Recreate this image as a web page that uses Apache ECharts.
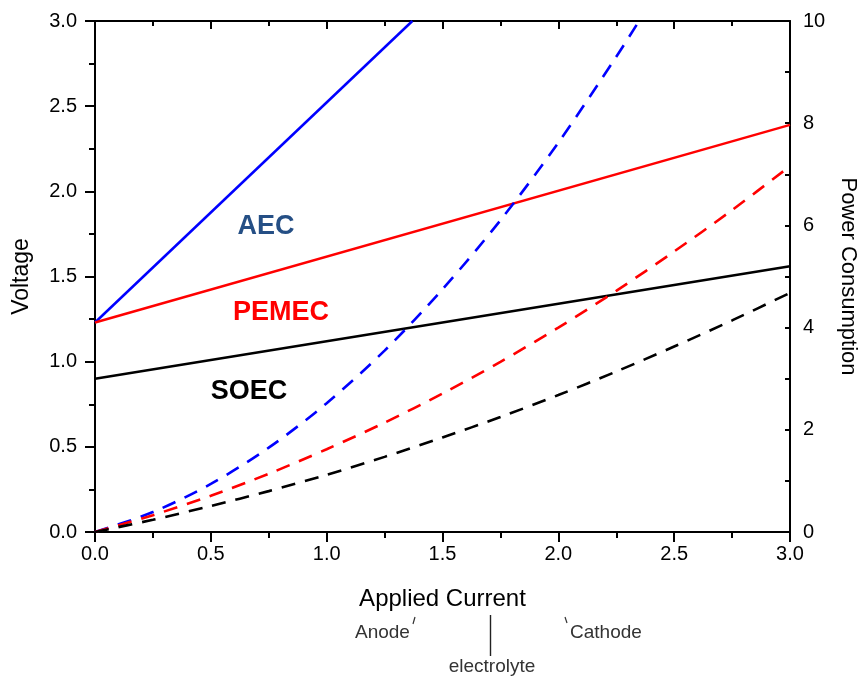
<!DOCTYPE html>
<html>
<head>
<meta charset="utf-8">
<script src="https://cdn.jsdelivr.net/npm/echarts@6/dist/echarts.min.js"></script>
<style>html,body{margin:0;padding:0;background:#fff}#c{width:865px;height:678px}</style>
</head>
<body>
<div id="c"></div>
<script>
// Applied current (x) sample points
const current = [0, 0.25, 0.5, 0.75, 1.0, 1.25, 1.5, 1.75, 2.0, 2.25, 2.5, 2.75, 3.0];
const currentAEC = [0, 0.25, 0.5, 0.75, 1.0, 1.25, 1.5, 1.75, 2.0, 2.25, 2.35];
// Power consumption (right axis)
const powerAEC = [0, 0.39, 0.94, 1.65, 2.52, 3.55, 4.75, 6.10, 7.62, 9.30, 10.01];
const powerPEMEC = [0, 0.33, 0.71, 1.14, 1.62, 2.14, 2.71, 3.33, 4.00, 4.72, 5.49, 6.30, 7.16];
const powerSOEC = [0, 0.24, 0.51, 0.80, 1.12, 1.47, 1.85, 2.25, 2.68, 3.14, 3.63, 4.14, 4.68];
// Voltage lines (left axis): end points
const currentV = [0, 3.0];
const currentVAEC = [0, 1.37];
const voltageAEC = [1.23, 3.0];
const voltagePEMEC = [1.23, 2.39];
const voltageSOEC = [0.90, 1.56];
// Labels
const seriesLabels = ['AEC', 'PEMEC', 'SOEC'];
const xTitle = 'Applied Current';
const yTitle = 'Voltage';
const y2Title = 'Power Consumption';
const bottomNotes = ['Anode', 'electrolyte', 'Cathode'];

const pairs = (xs, ys) => xs.map((x, i) => [x, ys[i]]);
const FONT = '"Liberation Sans", Arial, sans-serif';
const AX = {color: '#000', width: 2};

const chart = echarts.init(document.getElementById('c'), null, {renderer: 'canvas'});
const dashed = (name, xs, ys, color) => ({
  name, type: 'line', xAxisIndex: 0, yAxisIndex: 1, data: pairs(xs, ys),
  smooth: 0.3, showSymbol: false, symbol: 'none', clip: true,
  lineStyle: {color, width: 2.6, type: [14, 10]}
});
const solid = (name, xs, ys, color) => ({
  name, type: 'line', xAxisIndex: 0, yAxisIndex: 0, data: pairs(xs, ys),
  showSymbol: false, symbol: 'none', clip: true,
  lineStyle: {color, width: 2.5}
});

chart.setOption({
  animation: false,
  backgroundColor: '#fff',
  grid: {left: 95, right: 75, top: 21, bottom: 146, containLabel: false, outerBoundsMode: 'none'},
  xAxis: [{
    type: 'value', position: 'bottom', min: 0, max: 3, interval: 0.5,
    axisLine: {show: true, onZero: false, lineStyle: AX},
    axisTick: {show: true, length: 10, lineStyle: AX},
    minorTick: {show: true, splitNumber: 2, length: 6, lineStyle: AX},
    splitLine: {show: false},
    axisLabel: {color: '#000', fontSize: 20, fontFamily: FONT, margin: 12,
      formatter: v => v.toFixed(1)},
    name: xTitle, nameLocation: 'middle', nameGap: 55,
    nameTextStyle: {color: '#000', fontSize: 24, fontFamily: FONT}
  }, {
    type: 'value', position: 'top', min: 0, max: 3, interval: 0.5,
    axisLine: {show: true, onZero: false, lineStyle: AX},
    axisTick: {show: true, inside: true, length: 8, lineStyle: AX},
    minorTick: {show: true, splitNumber: 2, length: 5, lineStyle: AX},
    splitLine: {show: false},
    axisLabel: {show: false}
  }],
  yAxis: [{
    type: 'value', position: 'left', min: 0, max: 3, interval: 0.5,
    axisLine: {show: true, onZero: false, lineStyle: AX},
    axisTick: {show: true, length: 10, lineStyle: AX},
    minorTick: {show: true, splitNumber: 2, length: 6, lineStyle: AX},
    splitLine: {show: false},
    axisLabel: {color: '#000', fontSize: 20, fontFamily: FONT, margin: 18,
      formatter: v => v.toFixed(1)},
    name: yTitle, nameLocation: 'middle', nameGap: 62, nameRotate: 90,
    nameTextStyle: {color: '#000', fontSize: 23, fontFamily: FONT}
  }, {
    type: 'value', position: 'right', min: 0, max: 10, interval: 2,
    axisLine: {show: true, onZero: false, lineStyle: AX},
    axisTick: {show: true, inside: true, length: 5, lineStyle: AX},
    minorTick: {show: true, splitNumber: 2, length: 5, lineStyle: AX},
    splitLine: {show: false},
    axisLabel: {color: '#000', fontSize: 20, fontFamily: FONT, margin: 13},
    name: y2Title, nameLocation: 'middle', nameGap: 47, nameRotate: -90,
    nameTextStyle: {color: '#000', fontSize: 22, fontFamily: FONT}
  }],
  series: [
    solid('AEC V', currentVAEC, voltageAEC, '#0000ff'),
    solid('PEMEC V', currentV, voltagePEMEC, '#ff0000'),
    solid('SOEC V', currentV, voltageSOEC, '#000000'),
    dashed('AEC P', currentAEC, powerAEC, '#0000ff'),
    dashed('PEMEC P', current, powerPEMEC, '#ff0000'),
    dashed('SOEC P', current, powerSOEC, '#000000')
  ],
  graphic: [
    {type: 'text', x: 266, y: 227, style: {text: seriesLabels[0], fill: '#254f85',
      font: 'bold 27px ' + FONT, textAlign: 'center', textVerticalAlign: 'middle'}},
    {type: 'text', x: 281, y: 313, style: {text: seriesLabels[1], fill: '#ff0000',
      font: 'bold 27px ' + FONT, textAlign: 'center', textVerticalAlign: 'middle'}},
    {type: 'text', x: 249, y: 392, style: {text: seriesLabels[2], fill: '#000',
      font: 'bold 27px ' + FONT, textAlign: 'center', textVerticalAlign: 'middle'}},
    {type: 'text', x: 355, y: 633, style: {text: bottomNotes[0], fill: '#333',
      font: '19px ' + FONT, textAlign: 'left', textVerticalAlign: 'middle'}},
    {type: 'line', shape: {x1: 415, y1: 617, x2: 413, y2: 624}, style: {stroke: '#333', lineWidth: 1.2}},
    {type: 'text', x: 492, y: 667, style: {text: bottomNotes[1], fill: '#333',
      font: '19px ' + FONT, textAlign: 'center', textVerticalAlign: 'middle'}},
    {type: 'line', shape: {x1: 490.5, y1: 615, x2: 490.5, y2: 656}, style: {stroke: '#222', lineWidth: 1.4}},
    {type: 'text', x: 570, y: 633, style: {text: bottomNotes[2], fill: '#333',
      font: '19px ' + FONT, textAlign: 'left', textVerticalAlign: 'middle'}},
    {type: 'line', shape: {x1: 565, y1: 617, x2: 567, y2: 623}, style: {stroke: '#333', lineWidth: 1.2}}
  ]
});
</script>
</body>
</html>
